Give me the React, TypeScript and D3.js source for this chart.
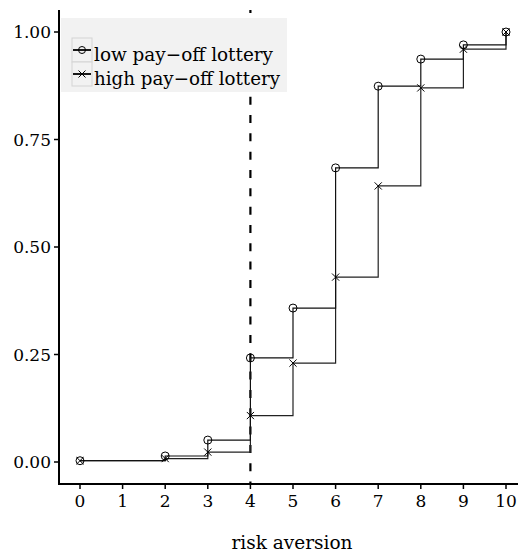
import React from "react";
import * as d3 from "d3";

const riskLevels = [0, 2, 3, 4, 5, 6, 7, 8, 9, 10];
const lowPayoff = [0.003, 0.014, 0.051, 0.242, 0.358, 0.684, 0.874, 0.937, 0.97, 1.0];
const highPayoff = [0.003, 0.008, 0.023, 0.108, 0.23, 0.43, 0.642, 0.87, 0.96, 1.0];
const xTicks = [0, 1, 2, 3, 4, 5, 6, 7, 8, 9, 10];
const yTicks = [0, 0.25, 0.5, 0.75, 1.0];
const seriesNames = ["low pay\u2212off lottery", "high pay\u2212off lottery"];
const cutoff = 4;

const W = 518;
const H = 555;
const FONT = "'DejaVu Serif'";

export default function App() {
  const x = d3.scaleLinear().domain([0, 10]).range([80, 506]);
  const y = d3.scaleLinear().domain([0, 1]).range([462, 32]);
  const panelLeft = 59;
  const panelTop = 10;
  const panelBottom = 484;

  const line = d3
    .line<[number, number]>()
    .x((d) => x(d[0]))
    .y((d) => y(d[1]))
    .curve(d3.curveStepAfter);

  const lowPts: [number, number][] = riskLevels.map((r, i) => [r, lowPayoff[i]]);
  const highPts: [number, number][] = riskLevels.map((r, i) => [r, highPayoff[i]]);

  const cross = (cx: number, cy: number, s: number, key: string) => (
    <path
      key={key}
      d={`M${cx - s},${cy - s}L${cx + s},${cy + s}M${cx - s},${cy + s}L${cx + s},${cy - s}`}
      stroke="#000"
      strokeWidth={1}
      fill="none"
    />
  );

  const txt = (size: number) => ({ fontFamily: FONT, fontSize: size });

  const legendX = 61;
  const legendY = 18;
  const keyX = 72;
  const keyW = 20;
  const keyH = 24;
  const rowY = [38, 62];
  const textLens = [179, 186];

  return (
    <svg width={W} height={H} style={{ position: "absolute", left: 0, top: 0, background: "#fff" }}>
      {/* dashed cutoff */}
      <line
        x1={x(cutoff)}
        x2={x(cutoff)}
        y1={panelTop}
        y2={panelBottom}
        stroke="#000"
        strokeWidth={2.2}
        strokeDasharray="8,10.33"
        strokeDashoffset={5}
      />
      {/* step lines */}
      <path d={line(highPts) || ""} fill="none" stroke="#222" strokeWidth={1.2} />
      <path d={line(lowPts) || ""} fill="none" stroke="#111" strokeWidth={1.2} />
      {/* points */}
      {lowPts.map((p, i) => (
        <circle key={"c" + i} cx={x(p[0])} cy={y(p[1])} r={4} fill="none" stroke="#000" strokeWidth={1} />
      ))}
      {highPts.map((p, i) => cross(x(p[0]), y(p[1]), 3.6, "x" + i))}

      {/* legend */}
      <rect x={legendX} y={legendY} width={287 - legendX} height={74} fill="#f2f2f2" />
      {seriesNames.map((name, i) => {
        const cy = rowY[i] + keyH / 2;
        const cx = keyX + keyW / 2;
        return (
          <g key={name}>
            <rect x={keyX} y={rowY[i]} width={keyW} height={keyH} fill="#f2f2f2" stroke="#d4d4d4" strokeWidth={1} />
            <line x1={keyX + 1} x2={keyX + keyW - 1} y1={cy} y2={cy} stroke="#000" strokeWidth={1.8} />
            {i === 0 ? (
              <circle cx={cx} cy={cy} r={3.5} fill="none" stroke="#000" strokeWidth={1} />
            ) : (
              cross(cx, cy, 3.5, "lg" + i)
            )}
            <text
              x={keyX + keyW + 2}
              y={rowY[i] + 23}
              style={txt(18.5)}
              fill="#000"
              textLength={textLens[i]}
              lengthAdjust="spacingAndGlyphs"
            >
              {name}
            </text>
          </g>
        );
      })}

      {/* axes */}
      <line x1={panelLeft} x2={panelLeft} y1={panelTop} y2={panelBottom + 1} stroke="#000" strokeWidth={2} />
      <line x1={panelLeft - 1} x2={W} y1={panelBottom} y2={panelBottom} stroke="#000" strokeWidth={2} />
      {yTicks.map((t) => (
        <g key={"yt" + t}>
          <line x1={panelLeft - 5} x2={panelLeft} y1={y(t)} y2={y(t)} stroke="#000" strokeWidth={1.5} />
          <text x={panelLeft - 8} y={y(t) + 6} textAnchor="end" style={txt(17)} fill="#000">
            {d3.format(".2f")(t)}
          </text>
        </g>
      ))}
      {xTicks.map((t) => (
        <g key={"xt" + t}>
          <line x1={x(t)} x2={x(t)} y1={panelBottom} y2={panelBottom + 5} stroke="#000" strokeWidth={1.5} />
          <text x={x(t)} y={507} textAnchor="middle" style={txt(17)} fill="#000">
            {t}
          </text>
        </g>
      ))}
      <text x={292} y={549} textAnchor="middle" style={txt(18.5)} fill="#000">
        risk aversion
      </text>
    </svg>
  );
}
